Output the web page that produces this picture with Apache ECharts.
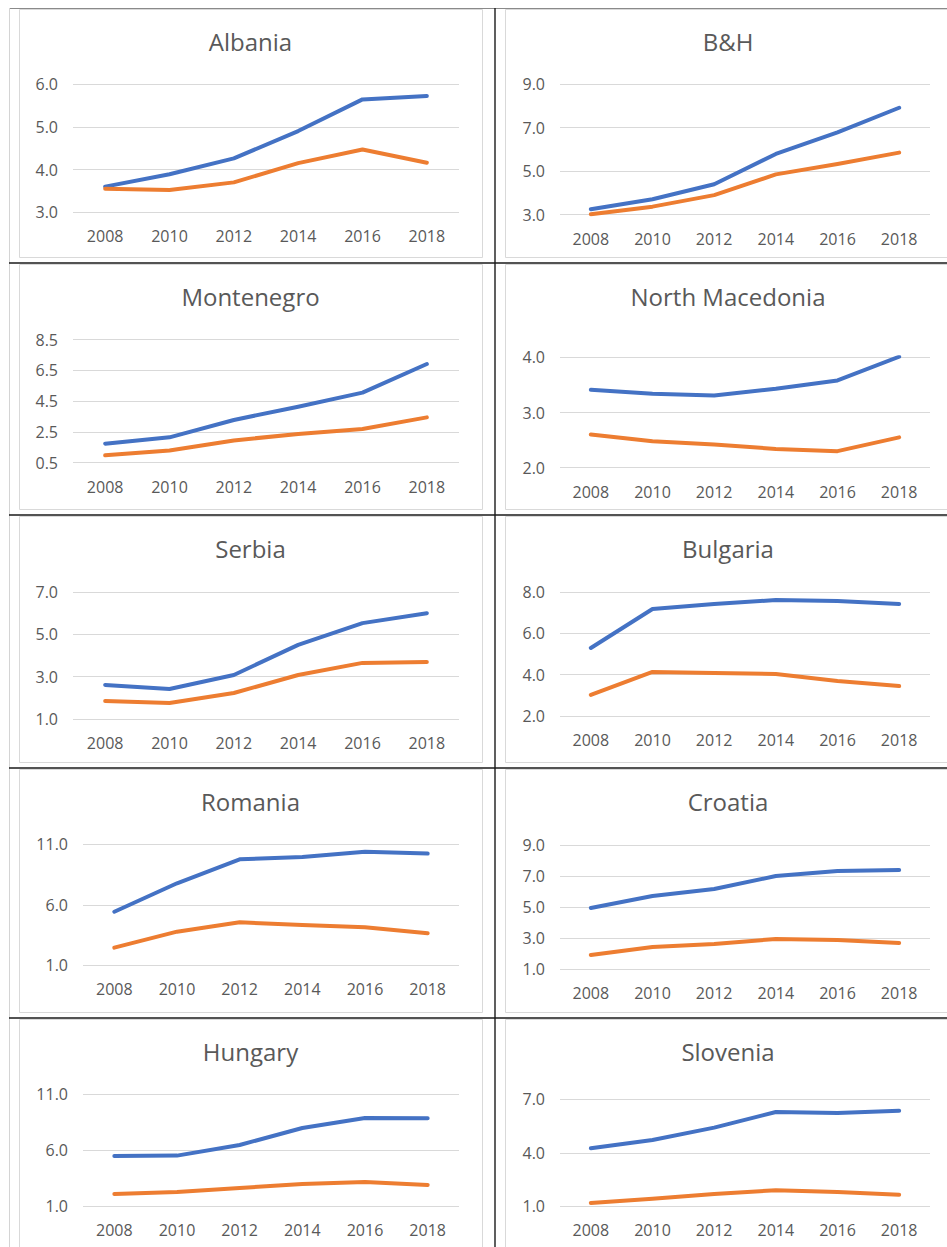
<!DOCTYPE html>
<html><head><meta charset="utf-8">
<script src="https://cdn.jsdelivr.net/npm/echarts@6/dist/echarts.min.js"></script>
<style>html,body{margin:0;padding:0;background:#fff;}#c{width:947px;height:1247px;}</style>
</head><body><div id="c"></div>
<script>
// ---------- DATA ----------
const years = ['2008', '2010', '2012', '2014', '2016', '2018'];
const countries = ['Albania', 'B&H', 'Montenegro', 'North Macedonia', 'Serbia', 'Bulgaria', 'Romania', 'Croatia', 'Hungary', 'Slovenia'];

const albaniaBlue   = [3.60, 3.89, 4.26, 4.90, 5.64, 5.72];
const albaniaOrange = [3.55, 3.52, 3.70, 4.15, 4.47, 4.16];
const bhBlue        = [3.25, 3.71, 4.40, 5.79, 6.78, 7.91];
const bhOrange      = [3.02, 3.37, 3.90, 4.85, 5.33, 5.85];
const montenegroBlue   = [1.74, 2.15, 3.28, 4.14, 5.06, 6.92];
const montenegroOrange = [0.98, 1.30, 1.95, 2.37, 2.69, 3.45];
const macedoniaBlue   = [3.41, 3.34, 3.31, 3.43, 3.58, 4.01];
const macedoniaOrange = [2.60, 2.48, 2.42, 2.34, 2.30, 2.55];
const serbiaBlue   = [2.61, 2.42, 3.08, 4.50, 5.53, 6.00];
const serbiaOrange = [1.85, 1.76, 2.23, 3.08, 3.65, 3.69];
const bulgariaBlue   = [5.29, 7.18, 7.42, 7.61, 7.56, 7.42];
const bulgariaOrange = [3.02, 4.13, 4.08, 4.03, 3.69, 3.45];
const romaniaBlue   = [5.43, 7.78, 9.76, 9.95, 10.39, 10.23];
const romaniaOrange = [2.46, 3.78, 4.55, 4.33, 4.14, 3.64];
const croatiaBlue   = [4.94, 5.71, 6.16, 7.00, 7.32, 7.39];
const croatiaOrange = [1.90, 2.42, 2.61, 2.94, 2.87, 2.68];
const hungaryBlue   = [5.46, 5.50, 6.45, 7.96, 8.86, 8.84];
const hungaryOrange = [2.07, 2.25, 2.61, 2.96, 3.14, 2.88];
const sloveniaBlue   = [4.25, 4.72, 5.41, 6.29, 6.23, 6.36];
const sloveniaOrange = [1.19, 1.43, 1.69, 1.90, 1.80, 1.65];

const blueSeries = [albaniaBlue, bhBlue, montenegroBlue, macedoniaBlue, serbiaBlue, bulgariaBlue, romaniaBlue, croatiaBlue, hungaryBlue, sloveniaBlue];
const orangeSeries = [albaniaOrange, bhOrange, montenegroOrange, macedoniaOrange, serbiaOrange, bulgariaOrange, romaniaOrange, croatiaOrange, hungaryOrange, sloveniaOrange];

// y-axis tick labels: min, max, step
const yMin  = [3, 3, 0.5, 2, 1, 2, 1, 1, 1, 1];
const yMax  = [6, 9, 8.5, 4, 7, 8, 11, 9, 11, 7];
const yStep = [1, 2, 2, 1, 2, 2, 5, 2, 5, 3];

// ---------- LAYOUT ----------
const rowTops = [8, 263, 515, 768, 1018];
const rowBottoms = [263, 515, 768, 1018, 1260];
const colBox = [[19, 482], [505, 951]];
const colGridRight = [459, 930];
// per panel: [top offset, bottom offset, grid left]
const panelLayout = [
  [76, 204.3, 73], [76, 206.7, 560],
  [76.7, 199.7, 73], [94.3, 204.7, 560],
  [77, 204, 73], [77, 201, 560],
  [76.3, 197.3, 83], [77, 201, 560],
  [76, 188, 83], [81.3, 188.3, 560]
];
const BLUE = '#4472C4', ORANGE = '#ED7D31', TXT = '#595959', GRID = '#D9D9D9';
const FONT = '"Open Sans", "Noto Sans", sans-serif';

const grids = [], xAxes = [], yAxes = [], series = [], graphics = [];

// table & box lines
graphics.push({type: 'line', shape: {x1: 9, y1: 8.5, x2: 947, y2: 8.5}, style: {stroke: '#8a8a8a', lineWidth: 1}, z: 10});
graphics.push({type: 'line', shape: {x1: 9.5, y1: 8, x2: 9.5, y2: 1247}, style: {stroke: '#d4d4d4', lineWidth: 1}, z: 10});
graphics.push({type: 'line', shape: {x1: 495, y1: 8, x2: 495, y2: 1247}, style: {stroke: '#1a1a1a', lineWidth: 1.4}, z: 10});
for (let r = 1; r < rowTops.length; r++) {
  graphics.push({type: 'line', shape: {x1: 9, y1: rowTops[r], x2: 947, y2: rowTops[r]}, style: {stroke: '#1a1a1a', lineWidth: 1.4}, z: 10});
}

countries.forEach((name, i) => {
  const col = i % 2, row = Math.floor(i / 2);
  const rt = rowTops[row];
  const [tOff, bOff, gl] = panelLayout[i];
  const box = colBox[col];
  graphics.push({type: 'rect', shape: {x: box[0] + 0.5, y: rt + 1.5, width: box[1] - box[0], height: rowBottoms[row] - rt - 7}, style: {fill: 'none', stroke: GRID, lineWidth: 1}, z: 5});
  graphics.push({type: 'text', x: (box[0] + box[1]) / 2, y: rt + 33.5, style: {text: name, fill: TXT, fontSize: 24, fontFamily: FONT, align: 'center', verticalAlign: 'middle'}, z: 20});

  grids.push({left: gl, top: rt + tOff, width: colGridRight[col] - gl, height: bOff - tOff});
  xAxes.push({type: 'category', gridIndex: i, data: years, boundaryGap: true,
    axisLine: {show: false}, axisTick: {show: false},
    axisLabel: {color: TXT, fontSize: 16, fontFamily: FONT, margin: 16}});
  yAxes.push({type: 'value', gridIndex: i, min: yMin[i], max: yMax[i], interval: yStep[i],
    axisLine: {show: false}, axisTick: {show: false},
    splitLine: {show: true, lineStyle: {color: GRID, width: 1}},
    axisLabel: {color: TXT, fontSize: 16, fontFamily: FONT, margin: 15, formatter: v => v.toFixed(1)}});
  [[blueSeries[i], BLUE], [orangeSeries[i], ORANGE]].forEach(([d, c]) => {
    series.push({type: 'line', xAxisIndex: i, yAxisIndex: i, data: d, showSymbol: false, symbol: 'none',
      lineStyle: {color: c, width: 4, cap: 'round', join: 'round'}, itemStyle: {color: c}, silent: true});
  });
});

const chart = echarts.init(document.getElementById('c'), null, {renderer: 'svg'});
chart.setOption({
  animation: false,
  backgroundColor: '#fff',
  textStyle: {fontFamily: FONT},
  grid: grids, xAxis: xAxes, yAxis: yAxes, series: series,
  graphic: graphics
});
</script></body></html>
